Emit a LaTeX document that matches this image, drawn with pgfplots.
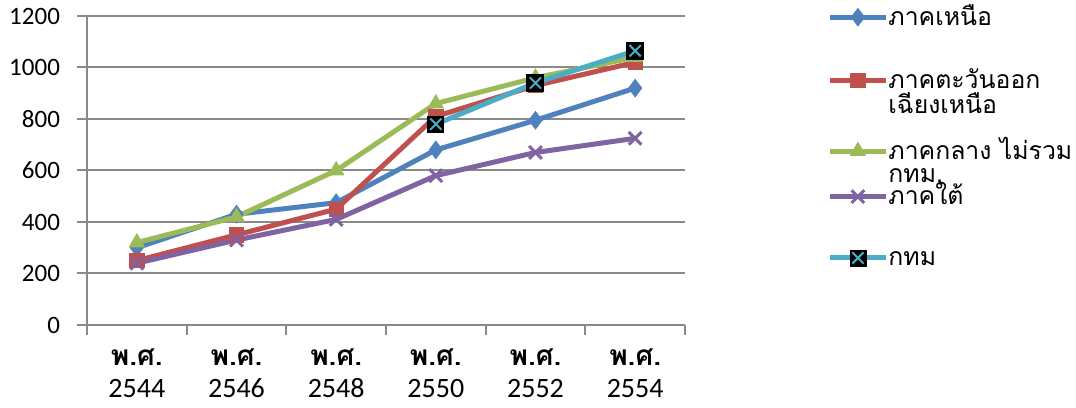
\documentclass[border=0pt]{standalone}
\usepackage{fontspec}
\usepackage{pgfplots}
\pgfplotsset{compat=1.18}
\setmainfont{Carlito}
\newfontfamily\thai[Script=Thai]{Loma}

\definecolor{cNorth}{HTML}{4F81BD}
\definecolor{cNE}{HTML}{C0504D}
\definecolor{cCentral}{HTML}{9BBB59}
\definecolor{cSouth}{HTML}{8064A2}
\definecolor{cBKK}{HTML}{4BACC6}
\definecolor{gridc}{HTML}{8A8A8A}

% black square with a cyan cross, used for Bangkok
\pgfdeclareplotmark{bkk}{%
  \pgfpathrectangle{\pgfqpoint{-\pgfplotmarksize}{-\pgfplotmarksize}}%
    {\pgfqpoint{2\pgfplotmarksize}{2\pgfplotmarksize}}%
  \pgfsetfillcolor{black}\pgfsetstrokecolor{black}%
  \pgfusepath{fill,stroke}%
  \pgfsetstrokecolor{cBKK}\pgfsetlinewidth{1pt}%
  \pgfpathmoveto{\pgfqpoint{-0.7\pgfplotmarksize}{-0.7\pgfplotmarksize}}%
  \pgfpathlineto{\pgfqpoint{0.7\pgfplotmarksize}{0.7\pgfplotmarksize}}%
  \pgfpathmoveto{\pgfqpoint{-0.7\pgfplotmarksize}{0.7\pgfplotmarksize}}%
  \pgfpathlineto{\pgfqpoint{0.7\pgfplotmarksize}{-0.7\pgfplotmarksize}}%
  \pgfusepath{stroke}%
}

% legend entry text: fixed height and a chosen depth, contents smashed
\newcommand\lent[2]{\rule[-#1]{0pt}{8pt}\raisebox{0pt}[0pt][0pt]{#2}}
\newcommand\twolines[3][12.5pt]{\vtop{\baselineskip=#1\lineskiplimit=-20pt\hbox{#2}\hbox{#3}}}

\begin{document}
\begin{tikzpicture}
% page frame around the plot area, labels and legend
\useasboundingbox (-43.5pt,-41pt) rectangle (494.5pt,162.5pt);
\begin{axis}[
  scale only axis,
  width=299pt, height=154.5pt,
  xmin=-0.5, xmax=5.5,
  ymin=0, ymax=1200,
  xtick={-0.5,0.5,...,5.5},
  x tick label as interval,
  xticklabels={
    {{\thai\bfseries พ.ศ.}\\2544},
    {{\thai\bfseries พ.ศ.}\\2546},
    {{\thai\bfseries พ.ศ.}\\2548},
    {{\thai\bfseries พ.ศ.}\\2550},
    {{\thai\bfseries พ.ศ.}\\2552},
    {{\thai\bfseries พ.ศ.}\\2554}},
  xticklabel style={align=center, font=\fontsize{14}{16}\selectfont, yshift=-3.5pt},
  ytick={0,200,...,1200},
  yticklabel style={font=\fontsize{12.5}{14}\selectfont, xshift=-5pt},
  /pgf/number format/assume math mode=true,
  /pgf/number format/1000 sep={},
  axis x line*=bottom, axis y line*=left,
  axis line style={draw=gridc, line width=1pt, -},
  ymajorgrids,
  grid style={gridc, line width=1pt},
  tick align=outside,
  major tick length=5pt,
  tick style={gridc, line width=1pt},
  every axis plot/.append style={line width=2.5pt},
  legend style={
    at={(1.2375,1.0259)}, anchor=north west,
    draw=none, fill=none, inner sep=0pt,
    font=\thai\fontsize{12.4}{12.5}\selectfont,
    row sep=0pt,
    nodes={inner sep=0pt, text depth=, text height=},
    cells={anchor=base west, inner ysep=0pt, inner xsep=1pt},
    /tikz/every odd column/.style={column sep=0pt},
  },
  legend image code/.code={%
    \draw[mark repeat=2, mark phase=2, yshift=4pt]
      plot coordinates {(0pt,0pt) (14pt,0pt) (28pt,0pt)};},
]
\addplot[cNorth, mark=diamond*, mark size=4.4pt,
  mark options={solid, line width=0.4pt}]
  coordinates {(0,300) (1,430) (2,475) (3,680) (4,795) (5,920)};
\addlegendentry{\lent{24pt}{ภาคเหนือ}}

\addplot[cNE, mark=square*, mark size=3.6pt,
  mark options={solid, line width=0.4pt}]
  coordinates {(0,250) (1,350) (2,450) (3,810) (4,930) (5,1020)};
\addlegendentry{\lent{27pt}{\twolines{ภาคตะวันออก}{เฉียงเหนือ}}}

\addplot[cCentral, mark=triangle*, mark size=4.4pt,
  mark options={solid, line width=0.4pt}]
  coordinates {(0,320) (1,420) (2,600) (3,860) (4,960) (5,1040)};
\addlegendentry{\lent{15.5pt}{\twolines[11.5pt]{ภาคกลาง ไม่รวม}{กทม.}}}

\addplot[cSouth, mark=x, mark size=4.5pt,
  mark options={solid, line width=1.5pt}]
  coordinates {(0,240) (1,330) (2,410) (3,580) (4,670) (5,725)};
\addlegendentry{\lent{22.5pt}{ภาคใต้}}

\addplot[cBKK, mark=bkk, mark size=4pt,
  mark options={solid, line width=0.4pt}]
  coordinates {(3,780) (4,940) (5,1065)};
\addlegendentry{\lent{3pt}{กทม}}
\end{axis}
\end{tikzpicture}
\end{document}
